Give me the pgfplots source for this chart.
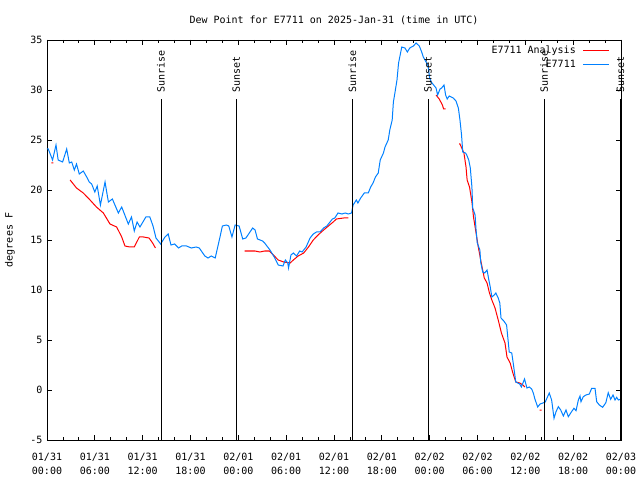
\documentclass[border=0pt]{standalone}
\usepackage{pgfplots}
\pgfplotsset{compat=1.18}
\usepackage{fontspec}
\setmainfont{DejaVu Sans Mono}
\setmonofont{DejaVu Sans Mono}
\definecolor{obsblue}{RGB}{0,128,255}
\definecolor{anared}{RGB}{255,0,0}
\newcommand{\gf}{\fontsize{10}{14}\selectfont}
\begin{document}
\begin{tikzpicture}
\useasboundingbox (-47pt,-40pt) rectangle (593pt,440pt);
\begin{axis}[
  scale only axis, width=574pt, height=400pt,
  xmin=0, xmax=72, ymin=-5, ymax=35,
  clip=false,
  axis line style={black, line width=0.8pt},
  tick style={black, line width=0.8pt},
  tick align=inside,
  major tick length=5pt, minor tick length=3pt,
  xtick={0,6,...,72}, minor xtick={0,2,...,72},
  ytick={-5,0,...,35},
  xticklabels={{01/31\\00:00},{01/31\\06:00},{01/31\\12:00},{01/31\\18:00},{02/01\\00:00},{02/01\\06:00},{02/01\\12:00},{02/01\\18:00},{02/02\\00:00},{02/02\\06:00},{02/02\\12:00},{02/02\\18:00},{02/03\\00:00}},
  xticklabel style={align=center, font=\gf, yshift=-10pt},
  yticklabel style={font=\gf, xshift=-1pt},
  /pgf/number format/assume math mode=true,
  title={Dew Point for E7711 on 2025-Jan-31 (time in UTC)},
  title style={at={(0.5,1)}, anchor=base, yshift=10pt, font=\gf},
  ylabel={degrees F},
  every axis y label/.style={at={(axis description cs:-0.0645,0.5)}, rotate=90, anchor=center, font=\gf},
  legend style={draw=none, fill=none, at={(1,1)}, anchor=north east, xshift=-8pt, yshift=-2pt, font=\gf, row sep=1pt},
  legend plot pos=right,
  legend cell align=right,
  legend image code/.code={\path (0pt,0pt); \draw[#1] (5pt,0pt) -- (31pt,0pt);},
  unbounded coords=jump,
]
\addplot[anared, line width=1pt] coordinates {
(0.55,22.7) (0.8,22.7) (nan,nan)
(2.9,21.0) (3.7,20.2) (4.55,19.7) (5.4,19.0) (6.2,18.3) (7.07,17.7) (7.9,16.6) (8.74,16.3) (9.37,15.3) (9.78,14.4) (10.4,14.3) (10.95,14.3) (11.58,15.3) (12.1,15.3) (12.8,15.2) (13.25,14.7) (13.6,14.2) (nan,nan)
(24.8,13.9) (26.1,13.9) (26.7,13.8) (27.3,13.9) (27.9,13.9) (28.4,13.5) (29.0,13.0) (29.7,12.8) (30.5,12.7) (30.9,13.0) (31.5,13.4) (32.2,13.7) (32.8,14.3) (33.4,15.0) (34.0,15.5) (34.7,16.0) (35.3,16.4) (35.9,16.8) (36.3,17.1) (37.2,17.2) (37.8,17.2) (nan,nan)
(48.8,29.5) (49.2,29.1) (49.6,28.5) (49.75,28.1) (50.0,28.1) (nan,nan)
(51.7,24.6) (51.8,24.6) (52.3,23.7) (52.56,22.3) (52.7,21.0) (53.0,20.3) (53.3,18.8) (53.5,17.3) (53.7,16.3) (53.9,15.3) (54.1,14.3) (54.4,13.0) (54.65,12.0) (54.85,11.2) (55.2,10.7) (55.5,9.7) (55.8,9.0) (56.2,8.2) (56.6,7.0) (57.0,5.7) (57.45,4.7) (57.7,3.3) (58.1,2.7) (58.4,1.8) (58.8,0.8) (59.3,0.7) (59.7,0.5) (59.95,0.3) (nan,nan)
(61.8,-2.0) (62.05,-2.0)
};
\addlegendentry{E7711 Analysis}
\addplot[obsblue, line width=1pt] coordinates {
(0.0,24.1) (0.16,24.1) (0.7,23.0) (1.13,24.5) (1.4,23.0) (1.96,22.8) (2.47,24.1) (2.8,22.7) (3.1,22.8) (3.43,22.0) (3.7,22.6) (4.05,21.6) (4.55,21.9) (4.98,21.3) (5.3,20.8) (5.6,20.6) (6.0,19.8) (6.3,20.4) (6.7,18.5) (7.28,20.8) (7.7,18.8) (8.2,19.1) (8.95,17.7) (9.37,18.3) (10.2,16.6) (10.6,17.3) (10.95,15.9) (11.3,16.8) (11.66,16.3) (12.4,17.3) (12.9,17.3) (13.3,16.4) (13.67,15.2) (14.26,14.6) (14.8,15.3) (15.2,15.6) (15.55,14.5) (16.0,14.6) (16.5,14.2) (16.9,14.4) (17.5,14.4) (18.1,14.2) (18.7,14.3) (19.1,14.2) (19.8,13.4) (20.2,13.2) (20.6,13.4) (21.1,13.2) (21.7,15.3) (22.0,16.4) (22.5,16.5) (22.8,16.4) (23.2,15.3) (23.6,16.5) (24.1,16.4) (24.55,15.1) (24.95,15.2) (25.46,15.8) (25.8,16.2) (26.1,16.0) (26.4,15.1) (27.05,14.9) (27.3,14.7) (27.97,14.0) (28.5,13.3) (29.0,12.5) (29.6,12.4) (29.9,13.0) (30.2,12.7) (30.3,12.2) (30.6,13.5) (30.9,13.7) (31.3,13.4) (31.7,13.9) (32.0,13.8) (32.5,14.3) (33.0,15.2) (33.4,15.6) (33.8,15.8) (34.25,15.8) (34.7,16.2) (35.1,16.4) (35.5,16.8) (35.8,17.1) (36.1,17.2) (36.5,17.7) (37.0,17.6) (37.4,17.7) (37.8,17.6) (38.2,17.7) (38.4,18.5) (38.8,19.0) (39.0,18.7) (39.35,19.2) (39.8,19.7) (40.3,19.7) (40.6,20.3) (40.9,20.7) (41.2,21.3) (41.55,21.7) (41.8,23.0) (42.2,23.7) (42.4,24.3) (42.8,25.0) (43.0,26.0) (43.3,27.0) (43.45,28.8) (43.7,30.0) (43.9,31.0) (44.1,32.7) (44.3,33.5) (44.5,34.3) (44.9,34.2) (45.2,33.8) (45.5,34.2) (45.96,34.4) (46.3,34.7) (46.7,34.4) (47.0,33.8) (47.2,33.3) (47.55,32.8) (47.8,32.4) (48.0,31.2) (48.2,30.8) (48.5,30.5) (48.8,30.2) (49.0,29.5) (49.3,30.1) (49.5,30.2) (49.8,30.5) (50.0,29.5) (50.2,29.1) (50.45,29.4) (50.96,29.2) (51.3,28.9) (51.6,28.2) (51.8,27.0) (52.0,25.5) (52.15,23.8) (52.5,23.7) (52.65,23.5) (52.9,23.0) (53.1,22.2) (53.3,20.3) (53.4,18.2) (53.7,17.5) (53.8,16.2) (53.97,14.7) (54.3,14.0) (54.4,12.8) (54.65,11.8) (54.9,11.7) (55.2,12.0) (55.4,11.1) (55.6,10.3) (55.8,9.3) (56.1,9.5) (56.3,9.7) (56.6,9.2) (56.8,8.7) (56.95,7.2) (57.3,6.9) (57.65,6.5) (57.98,3.8) (58.3,3.7) (58.6,2.0) (58.8,0.8) (59.3,0.6) (59.5,0.3) (59.9,1.1) (60.2,0.2) (60.5,0.3) (60.8,0.1) (61.0,-0.3) (61.2,-0.9) (61.55,-1.7) (61.85,-1.4) (62.2,-1.3) (62.5,-1.2) (63.0,-0.3) (63.3,-1.0) (63.6,-2.83) (63.85,-2.17) (64.14,-1.67) (64.44,-2.0) (64.77,-2.6) (65.1,-2.0) (65.39,-2.67) (65.8,-2.17) (66.1,-1.83) (66.36,-2.07) (66.65,-1.0) (66.86,-0.6) (66.98,-1.17) (67.27,-0.67) (67.6,-0.5) (68.03,-0.4) (68.32,0.17) (68.74,0.17) (68.95,-1.17) (69.28,-1.5) (69.7,-1.73) (70.1,-1.27) (70.4,-0.27) (70.7,-0.93) (71.0,-0.5) (71.25,-1.0) (71.46,-0.73) (71.67,-1.0) (71.9,-0.93)
};
\addlegendentry{E7711}
% sunrise / sunset markers
\addplot[black, line width=0.8pt, forget plot] coordinates {(14.3,-5) (14.3,29.1) (nan,nan) (23.75,-5) (23.75,29.1) (nan,nan) (38.3,-5) (38.3,29.1) (nan,nan) (47.8,-5) (47.8,29.1) (nan,nan) (62.35,-5) (62.35,29.1) (nan,nan) (71.95,-5) (71.95,29.1)};
\node[rotate=90, anchor=west, inner sep=0pt, font=\gf] at (axis cs:14.3,29.7) {Sunrise};
\node[rotate=90, anchor=west, inner sep=0pt, font=\gf] at (axis cs:23.75,29.7) {Sunset};
\node[rotate=90, anchor=west, inner sep=0pt, font=\gf] at (axis cs:38.3,29.7) {Sunrise};
\node[rotate=90, anchor=west, inner sep=0pt, font=\gf] at (axis cs:47.8,29.7) {Sunset};
\node[rotate=90, anchor=west, inner sep=0pt, font=\gf] at (axis cs:62.35,29.7) {Sunrise};
\node[rotate=90, anchor=west, inner sep=0pt, font=\gf] at (axis cs:71.95,29.7) {Sunset};
\end{axis}
\end{tikzpicture}
\end{document}
